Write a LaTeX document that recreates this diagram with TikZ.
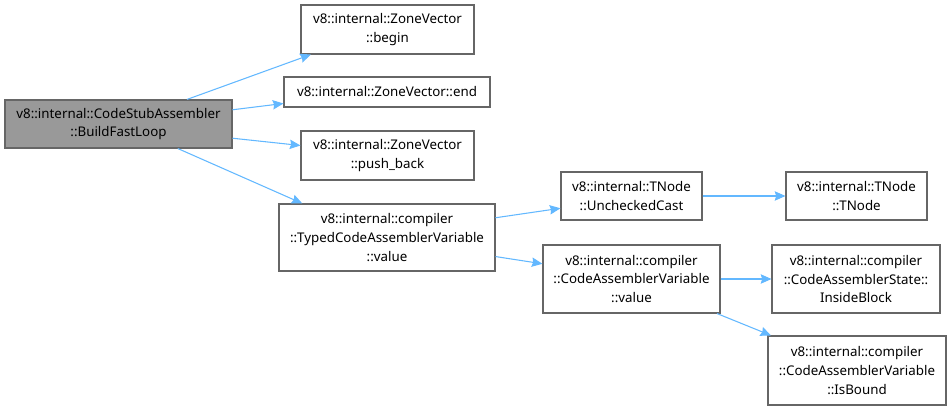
\documentclass[tikz,border=0pt]{standalone}
\usepackage{fontspec}
\setmainfont{Noto Sans}
\usetikzlibrary{arrows.meta,calc}
\definecolor{edgeblue}{HTML}{63B8FF}
\definecolor{boxgray}{HTML}{999999}
\definecolor{bordergray}{HTML}{666666}
\begin{document}
\begin{tikzpicture}[x=0.75pt,y=-0.75pt,
  fn/.style={draw=bordergray,line width=0.8pt,fill=white,inner sep=0pt,align=center,
    font=\fontsize{10}{14.2}\selectfont,text=black},
  edge/.style={draw=edgeblue,line width=0.8pt,-{Stealth[length=8pt,width=7pt,inset=1pt]}}]
\useasboundingbox (0,0) rectangle (951,410);
\node[fn,fill=boxgray,minimum width=227*0.75pt,minimum height=48*0.75pt] (A) at (118.5,124) {v8::internal::CodeStubAssembler\\::BuildFastLoop};
\node[fn,minimum width=173*0.75pt,minimum height=49*0.75pt] (B) at (387.5,29.5) {v8::internal::ZoneVector\\::begin};
\node[fn,minimum width=206*0.75pt,minimum height=30*0.75pt] (E) at (387,92) {v8::internal::ZoneVector::end};
\node[fn,minimum width=173*0.75pt,minimum height=49*0.75pt] (P) at (387.5,155.5) {v8::internal::ZoneVector\\::push\_back};
\node[fn,minimum width=216*0.75pt,minimum height=67*0.75pt] (T) at (387,237.5) {v8::internal::compiler\\::TypedCodeAssemblerVariable\\::value};
\node[fn,minimum width=141*0.75pt,minimum height=48*0.75pt] (U) at (631.5,196) {v8::internal::TNode\\::UncheckedCast};
\node[fn,minimum width=141*0.75pt,minimum height=48*0.75pt] (N) at (856.5,196) {v8::internal::TNode\\::TNode};
\node[fn,minimum width=177*0.75pt,minimum height=68*0.75pt] (C) at (631.5,279) {v8::internal::compiler\\::CodeAssemblerVariable\\::value};
\node[fn,minimum width=168*0.75pt,minimum height=68*0.75pt] (I) at (856,279) {v8::internal::compiler\\::CodeAssemblerState::\\InsideBlock};
\node[fn,minimum width=178*0.75pt,minimum height=69*0.75pt] (S) at (857,370.5) {v8::internal::compiler\\::CodeAssemblerVariable\\::IsBound};
\draw[edge] ($(A.north west)!0.80!(A.north east)$) -- ($(B.south west)!0.06!(B.south east)$);
\draw[edge] ($(A.north east)!0.21!(A.south east)$) -- ($(E.north west)!0.87!(E.south west)$);
\draw[edge] ($(A.north east)!0.79!(A.south east)$) -- ($(P.north west)!0.30!(P.south west)$);
\draw[edge] ($(A.south west)!0.76!(A.south east)$) -- ($(T.north west)!0.11!(T.north east)$);
\draw[edge] ($(T.north east)!0.21!(T.south east)$) -- ($(U.north west)!0.75!(U.south west)$);
\draw[edge] ($(T.north east)!0.78!(T.south east)$) -- ($(C.north west)!0.28!(C.south west)$);
\draw[edge] (U.east) -- (N.west);
\draw[edge] (C.east) -- (I.west);
\draw[edge] ($(C.south west)!0.98!(C.south east)$) -- ($(S.north west)!0.02!(S.north east)$);
\end{tikzpicture}
\end{document}
